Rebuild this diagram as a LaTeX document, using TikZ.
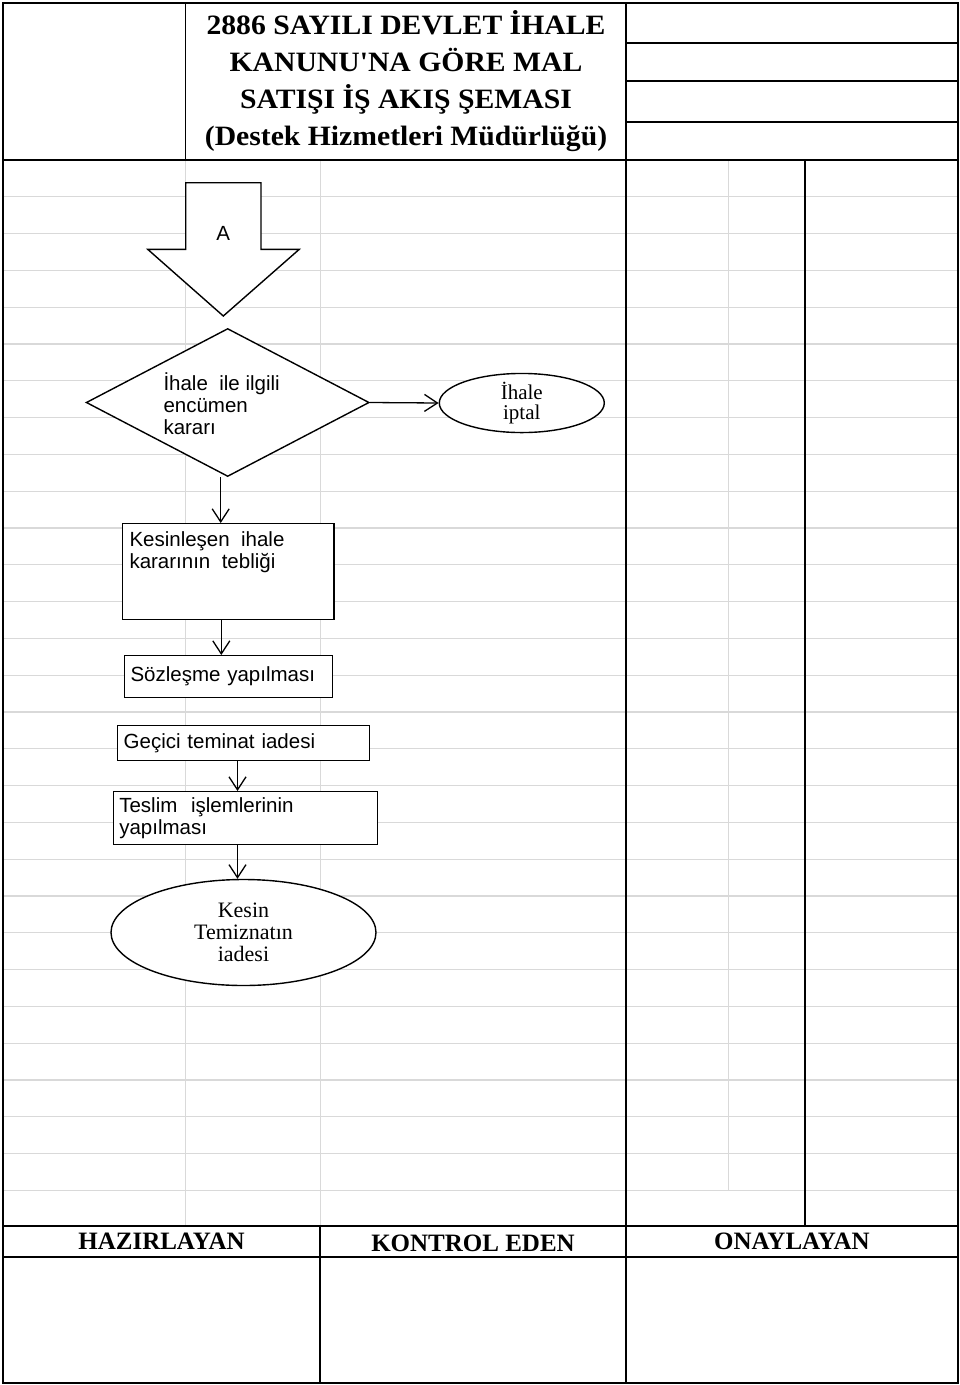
\documentclass[tikz,border=0pt]{standalone}
\usepackage{fontspec}
\setmainfont{Liberation Serif}
\newfontfamily\sansbox{Liberation Sans}
\newfontfamily\titlefont[FakeStretch=1.06]{Liberation Serif}
\usetikzlibrary{shapes.geometric,arrows.meta}
\definecolor{gridgrey}{RGB}{217,217,217}
\newcommand{\boxtext}{\sansbox\fontsize{20.5pt}{22pt}\selectfont}
\newcommand{\ovaltext}{\fontsize{22pt}{22pt}\selectfont}
\tikzset{
  frame/.style={line width=1.7pt},
  gridline/.style={gridgrey, line width=1.2pt},
  shapeline/.style={draw, fill=white, line width=1.4pt},
  workbox/.style={shapeline, rectangle, inner xsep=6pt, inner ysep=0pt, align=left, font=\boxtext},
  oval/.style={shapeline, ellipse, inner sep=0pt, align=center, font=\ovaltext},
  flow/.style={line width=1.3pt, -{Straight Barb[length=13pt,width=17pt]}},
}
\begin{document}
\begin{tikzpicture}[x=1pt, y=-1pt]
\useasboundingbox (0,0) rectangle (960,1385);
\fill[white] (0,0) rectangle (960,1385);
\foreach \k in {0,...,27}
  \draw[gridline] (3,{196.7+36.8*\k}) -- (958,{196.7+36.8*\k});
\draw[gridline] (185.7,160) -- (185.7,1226);
\draw[gridline] (320.7,160) -- (320.7,1226);
\draw[gridline] (728.3,160) -- (728.3,1190);
\draw[frame] (3,3) rectangle (958,1383);
\draw[frame] (185.5,3) -- (185.5,160);
\draw[frame] (626,3) -- (626,1383);
\draw[frame] (3,160) -- (958,160);
\foreach \yy in {43,81,122}
  \draw[frame] (626,\yy) -- (958,\yy);
\draw[frame] (805,160) -- (805,1226);
\draw[frame] (3,1226) -- (958,1226);
\draw[frame] (3,1257) -- (958,1257);
\draw[frame] (320,1226) -- (320,1383);
\node[align=center, font=\titlefont\bfseries\fontsize{28pt}{37pt}\selectfont] (title) at (406,81)
  {2886 SAYILI DEVLET İHALE\\KANUNU'NA GÖRE MAL\\SATIŞI İŞ AKIŞ ŞEMASI\\(Destek Hizmetleri Müdürlüğü)};
\draw[shapeline] (185.7,182.7) -- (261,182.7) -- (261,249.3) -- (299.3,249.3) -- (223.3,316)
  -- (147.7,249.3) -- (185.7,249.3) -- cycle;
\node[font=\boxtext] (A) at (223.3,233) {A};
\node[shapeline, diamond, aspect=1.91, minimum width=283pt, minimum height=148pt, inner sep=0pt] (karar) at (227.7,402.5) {};
\node[anchor=west, align=left, inner sep=0pt, font=\boxtext] (kararText) at (163.3,404)
  {İhale\ \ ile ilgili\\encümen\\kararı};
\node[oval, minimum width=165pt, minimum height=56pt, font=\fontsize{21pt}{20pt}\selectfont] (iptal) at (521.8,403) {İhale\\iptal};
\node[workbox, minimum width=211.3pt, minimum height=95.6pt] (teblig) at (228.3,571.5) {};
\node[anchor=north west, align=left, inner sep=0pt, font=\boxtext] (tebligText) at (129.3,531)
  {Kesinleşen\ \ ihale\\kararının\ \ tebliği};
\node[workbox, text width=196pt, minimum height=41.6pt] (sozlesme) at (228.5,676.5) {Sözleşme yapılması};
\node[workbox, text width=239.6pt, minimum height=35.4pt] (gecici) at (243.5,743) {Geçici teminat iadesi};
\node[workbox, text width=252.4pt, minimum height=52.6pt] (teslim) at (245.5,818) {Teslim\ \ işlemlerinin\\yapılması};
\node[oval, minimum width=265pt, minimum height=106pt] (kesin) at (243.5,932.5) {Kesin\\Temiznatın\\iadesi};
\draw[flow] (karar.east) -- (iptal.west);
\draw[flow] ([xshift=-7pt]karar.south) -- ([xshift=-7pt]karar.south |- teblig.north);
\draw[flow] ([xshift=-7pt]teblig.south) -- ([xshift=-7pt]teblig.south |- sozlesme.north);
\draw[flow] ([xshift=-6pt]gecici.south) -- ([xshift=-6pt]gecici.south |- teslim.north);
\draw[flow] ([xshift=-8pt]teslim.south) -- ([xshift=-8pt]teslim.south |- kesin.north);
\node[font=\bfseries\fontsize{25pt}{25pt}\selectfont] (hazir) at (161.5,1241) {HAZIRLAYAN};
\node[font=\bfseries\fontsize{25pt}{25pt}\selectfont] (kontrol) at (473,1243) {KONTROL EDEN};
\node[font=\bfseries\fontsize{25pt}{25pt}\selectfont] (onay) at (792,1241) {ONAYLAYAN};
\end{tikzpicture}
\end{document}
